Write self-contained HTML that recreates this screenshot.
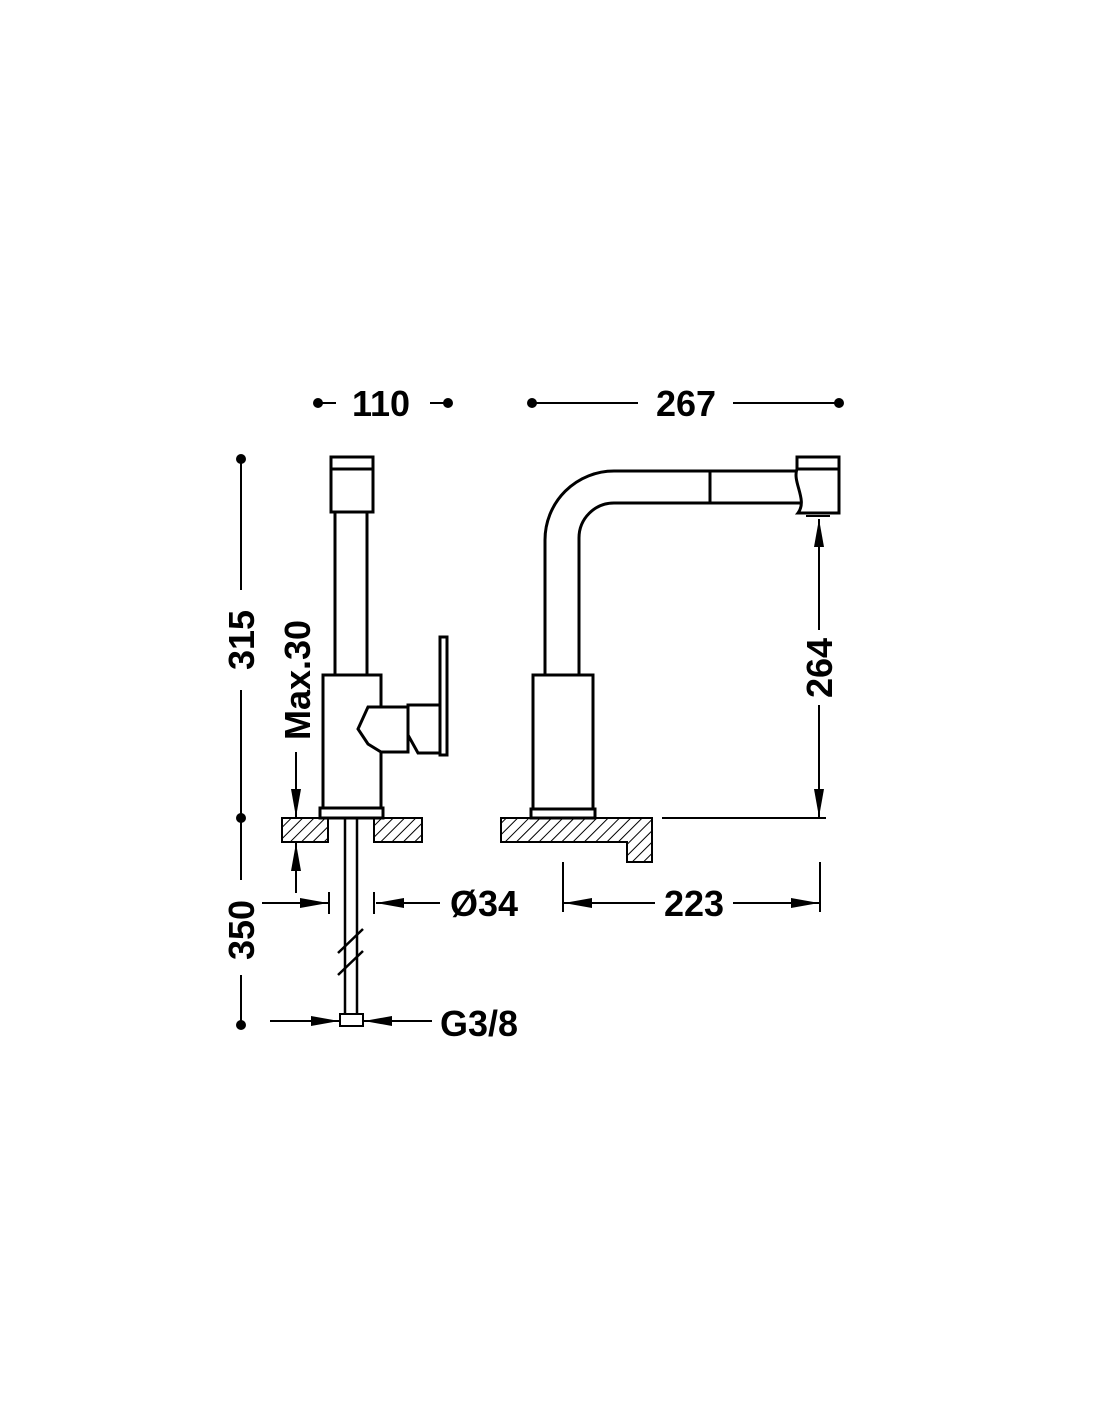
<!DOCTYPE html>
<html><head><meta charset="utf-8"><style>html,body{margin:0;padding:0;background:#fff}</style></head>
<body>
<svg width="1100" height="1422" viewBox="0 0 1100 1422" xmlns="http://www.w3.org/2000/svg" style="display:block">
<defs>
<pattern id="h" width="8" height="8" patternUnits="userSpaceOnUse" patternTransform="rotate(45)">
<rect width="8" height="8" fill="#fff"/><line x1="0" y1="0" x2="0" y2="8" stroke="#000" stroke-width="2"/>
</pattern>
<marker id="a" viewBox="0 0 28 10" refX="28" refY="5" markerWidth="28" markerHeight="10" markerUnits="userSpaceOnUse" orient="auto"><path d="M0,0 L28,5 L0,10 Z" fill="#000"/></marker>
</defs>
<g font-family="Liberation Sans, sans-serif" font-weight="bold" font-size="36" fill="#000">
<g stroke="#000" stroke-width="2">
<line x1="318" y1="403" x2="336" y2="403"/><line x1="430" y1="403" x2="448" y2="403"/>
<line x1="532" y1="403" x2="638" y2="403"/><line x1="733" y1="403" x2="839" y2="403"/>
</g>
<circle cx="318" cy="403" r="5"/><circle cx="448" cy="403" r="5"/><circle cx="532" cy="403" r="5"/><circle cx="839" cy="403" r="5"/>
<text x="381" y="416" text-anchor="middle">110</text>
<text x="686" y="416" text-anchor="middle">267</text>
<g stroke="#000" stroke-width="2">
<line x1="241" y1="459" x2="241" y2="590"/><line x1="241" y1="690" x2="241" y2="818"/>
<line x1="241" y1="818" x2="241" y2="880"/><line x1="241" y1="975" x2="241" y2="1025"/>
</g>
<circle cx="241" cy="459" r="5"/><circle cx="241" cy="818" r="5"/><circle cx="241" cy="1025" r="5"/>
<text transform="translate(254,640) rotate(-90)" text-anchor="middle">315</text>
<text transform="translate(254,930) rotate(-90)" text-anchor="middle">350</text>
<text transform="translate(310,680) rotate(-90)" text-anchor="middle">Max.30</text>
<g stroke="#000" stroke-width="2" fill="none">
<line x1="296" y1="752" x2="296" y2="817" marker-end="url(#a)"/>
<line x1="296" y1="893" x2="296" y2="843" marker-end="url(#a)"/>
<line x1="262" y1="903" x2="328" y2="903" marker-end="url(#a)"/>
<line x1="329" y1="892" x2="329" y2="914"/><line x1="374" y1="892" x2="374" y2="914"/>
<line x1="440" y1="903" x2="376" y2="903" marker-end="url(#a)"/>
<line x1="270" y1="1021" x2="339" y2="1021" marker-end="url(#a)"/>
<line x1="432" y1="1021" x2="364" y2="1021" marker-end="url(#a)"/>
</g>
<text x="450" y="916">Ø34</text>
<text x="440" y="1036">G3/8</text>
<g stroke="#000" stroke-width="3" fill="#fff">
<rect x="282" y="818" width="46" height="24" fill="url(#h)" stroke-width="2"/>
<rect x="374" y="818" width="48" height="24" fill="url(#h)" stroke-width="2"/>
<line x1="345" y1="818" x2="345" y2="1014" stroke-width="2.5"/><line x1="357" y1="818" x2="357" y2="1014" stroke-width="2.5"/>
<line x1="338" y1="953" x2="363" y2="929" stroke-width="2.5"/><line x1="338" y1="975" x2="363" y2="951" stroke-width="2.5"/>
<rect x="340" y="1014" width="23" height="12" stroke-width="2"/>
<rect x="335" y="512" width="32" height="163"/>
<rect x="331" y="457" width="42" height="12"/><rect x="331" y="469" width="42" height="43"/>
<rect x="440" y="637" width="7" height="118"/>
<rect x="323" y="675" width="58" height="133"/>
<path d="M381,707 L368,707 L358,729 L368,744 L381,752 L408,752 L408,707 Z"/>
<path d="M408,705 L440,705 L440,753 L418,753 L408,735 Z"/>
<rect x="320" y="808" width="63" height="10"/>
</g>
<g stroke="#000" stroke-width="3" fill="#fff">
<path d="M501,818 H652 V862 H627 V842 H501 Z" fill="url(#h)" stroke-width="2"/>
<line x1="662" y1="818" x2="826" y2="818" stroke-width="2"/>
<path d="M545,675 V540 A69,69 0 0 1 614,471 H800 M800,503 H614 A35,35 0 0 0 579,538 V675" fill="none"/>
<line x1="710" y1="471" x2="710" y2="503"/>
<path d="M797,469 H839 V513 H798 C808,500 792,482 797,469 Z"/>
<rect x="797" y="457" width="42" height="12"/>
<line x1="806" y1="516" x2="830" y2="516" stroke-width="2"/>
<rect x="533" y="675" width="60" height="134"/>
<rect x="531" y="809" width="64" height="9"/>
</g>
<g stroke="#000" stroke-width="2" fill="none">
<line x1="819" y1="630" x2="819" y2="519" marker-end="url(#a)"/>
<line x1="819" y1="705" x2="819" y2="817" marker-end="url(#a)"/>
<line x1="563" y1="862" x2="563" y2="912"/><line x1="820" y1="862" x2="820" y2="912"/>
<line x1="655" y1="903" x2="564" y2="903" marker-end="url(#a)"/>
<line x1="733" y1="903" x2="819" y2="903" marker-end="url(#a)"/>
</g>
<text transform="translate(832,668) rotate(-90)" text-anchor="middle">264</text>
<text x="694" y="916" text-anchor="middle">223</text>
</g>
</svg>
</body></html>
